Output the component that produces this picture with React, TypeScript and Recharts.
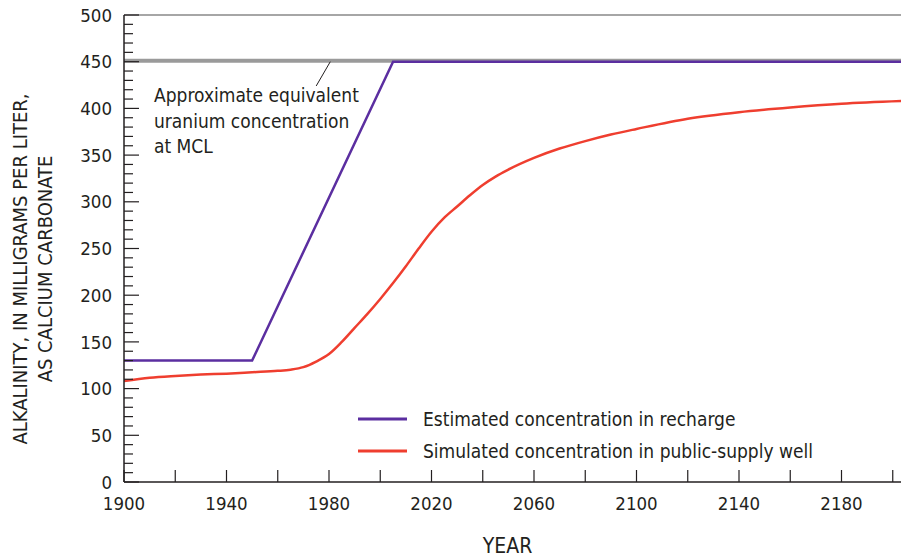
import { LineChart, Line, XAxis, YAxis, ReferenceLine, Legend } from 'recharts';

// recharge concentration (mg/L as CaCO3)
const rechargeYears = [1900, 1950, 2005, 2204];
const rechargeValues = [130, 130, 450, 450];

// simulated concentration in the public-supply well
const wellYears = [1900, 1910, 1920, 1930, 1940, 1950, 1960, 1965, 1970, 1975, 1980, 1985, 1990, 1995, 2000, 2005, 2010, 2015, 2020, 2025, 2030, 2035, 2040, 2045, 2050, 2060, 2070, 2080, 2090, 2100, 2120, 2140, 2160, 2180, 2204];
const wellValues = [108, 111.5, 113.5, 115, 116, 117.5, 119, 120.3, 123, 129, 137, 150, 165, 180, 196, 213, 231, 250, 268, 283, 295, 307, 318, 327, 334.5, 347, 357, 365, 372, 378, 389, 396, 401, 405, 408];

const mclValue = 451;
const leaderFrom = { year: 1975, value: 424 };
const leaderTo = { year: 1980.5, value: 450 };

const yearTicks = [1900, 1920, 1940, 1960, 1980, 2000, 2020, 2040, 2060, 2080, 2100, 2120, 2140, 2160, 2180, 2200];
const valueTicks = Array.from({ length: 51 }, (_, i) => i * 10);

const rechargeData = rechargeYears.map((year, i) => ({ year, recharge: rechargeValues[i] }));
const wellData = wellYears.map((year, i) => ({ year, well: wellValues[i] }));

const FONT = '"Liberation Sans Narrow", "DejaVu Sans Condensed", "Arial Narrow", sans-serif';
const INK = '#231f20';
const PURPLE = '#5b2ea0';
const RED = '#ef3e2f';

const BottomTick = (props: any) => {
  const { x, y, payload } = props;
  const v = payload.value;
  return (
    <g>
      <line x1={x} y1={y} x2={x} y2={y - 12} stroke={INK} strokeWidth={1.2} />
      {(v - 1900) % 40 === 0 && (
        <text x={x} y={y + 28} textAnchor="middle" fontSize={18.5} fontFamily={FONT} fill={INK}>
          {v}
        </text>
      )}
    </g>
  );
};

const TopTick = (props: any) => {
  const { x, y } = props;
  return <line x1={x} y1={y} x2={x} y2={y + 12} stroke="#444" strokeWidth={1.2} />;
};

const LeftTick = (props: any) => {
  const { x, y, payload } = props;
  const major = payload.value % 50 === 0;
  return (
    <g>
      <line x1={x} y1={y} x2={x + (major ? 15 : 9)} y2={y} stroke={INK} strokeWidth={1.2} />
      {major && (
        <text x={x - 12} y={y} dy="0.36em" textAnchor="end" fontSize={18.5} fontFamily={FONT} fill={INK}>
          {payload.value}
        </text>
      )}
    </g>
  );
};

const RightTick = (props: any) => {
  const { x, y, payload } = props;
  const major = payload.value % 50 === 0;
  return <line x1={x} y1={y} x2={x - (major ? 15 : 9)} y2={y} stroke="#777" strokeWidth={1.2} />;
};

const YTitle = () => {
  const cy = 269;
  return (
    <text transform={`rotate(-90 0 ${cy})`} x={0} y={cy} textAnchor="middle" fontSize={20} fontFamily={FONT} fill={INK}>
      <tspan x={0} y={cy + 27}>ALKALINITY, IN MILLIGRAMS PER LITER,</tspan>
      <tspan x={0} y={cy + 52}>AS CALCIUM CARBONATE</tspan>
    </text>
  );
};

const XTitle = (props: any) => {
  const { viewBox } = props;
  return (
    <text x={viewBox.x + viewBox.width / 2 - 6} y={553} textAnchor="middle" fontSize={21} fontFamily={FONT} fill={INK}>
      YEAR
    </text>
  );
};

const MclNote = (props: any) => {
  const { viewBox } = props;
  const x = viewBox.x + 30;
  const y = viewBox.y;
  return (
    <text fontSize={19} fontFamily={FONT} fill={INK}>
      <tspan x={x} y={y + 41}>Approximate equivalent</tspan>
      <tspan x={x} y={y + 67}>uranium concentration</tspan>
      <tspan x={x} y={y + 92}>at MCL</tspan>
    </text>
  );
};

const renderLegend = (props: any) => {
  const { payload } = props;
  return (
    <div style={{ fontFamily: FONT, fontSize: 19, color: INK }}>
      {payload.map((p: any) => (
        <div key={p.value} style={{ display: 'flex', alignItems: 'center', height: 32 }}>
          <svg width={49} height={4} style={{ marginRight: 16 }}>
            <line x1={0} y1={2} x2={49} y2={2} stroke={p.color} strokeWidth={3} />
          </svg>
          <span>{p.value}</span>
        </div>
      ))}
    </div>
  );
};

export default function App() {
  return (
    <div style={{ position: 'fixed', left: 0, top: 0, width: 901, height: 560, overflow: 'hidden', background: '#fff' }}>
      <LineChart width={910} height={560} margin={{ top: 0, right: 0, bottom: 0, left: 0 }}>
        <XAxis
          xAxisId="bottom"
          type="number"
          dataKey="year"
          domain={[1900, 2204]}
          ticks={yearTicks}
          allowDataOverflow
          height={78}
          tickSize={0}
          tickMargin={0}
          tick={<BottomTick />}
          axisLine={{ stroke: INK, strokeWidth: 1.5 }}
          label={<XTitle />}
        />
        <XAxis
          xAxisId="top"
          orientation="top"
          type="number"
          domain={[1900, 2204]}
          ticks={yearTicks}
          allowDataOverflow
          height={15}
          tickSize={0}
          tickMargin={0}
          tick={<TopTick />}
          axisLine={{ stroke: '#888', strokeWidth: 1.5 }}
        />
        <YAxis
          yAxisId="left"
          type="number"
          domain={[0, 500]}
          ticks={valueTicks}
          width={124}
          tickSize={0}
          tickMargin={0}
          interval={0}
          tick={<LeftTick />}
          axisLine={{ stroke: INK, strokeWidth: 1.5 }}
          label={<YTitle />}
        />
        <YAxis
          yAxisId="right"
          orientation="right"
          type="number"
          domain={[0, 500]}
          ticks={valueTicks}
          width={7}
          tickSize={0}
          tickMargin={0}
          interval={0}
          tick={<RightTick />}
          axisLine={{ stroke: '#777', strokeWidth: 1.5 }}
        />
        <ReferenceLine
          xAxisId="bottom"
          yAxisId="left"
          y={mclValue}
          stroke="#9a9a9a"
          strokeWidth={4}
          label={<MclNote />}
        />
        <ReferenceLine
          xAxisId="bottom"
          yAxisId="left"
          segment={[
            { x: leaderFrom.year, y: leaderFrom.value },
            { x: leaderTo.year, y: leaderTo.value },
          ]}
          stroke={INK}
          strokeWidth={1}
        />
        <Line
          xAxisId="bottom"
          yAxisId="left"
          data={rechargeData}
          dataKey="recharge"
          name="Estimated concentration in recharge"
          type="linear"
          stroke={PURPLE}
          strokeWidth={2.5}
          dot={false}
          isAnimationActive={false}
        />
        <Line
          xAxisId="bottom"
          yAxisId="left"
          data={wellData}
          dataKey="well"
          name="Simulated concentration in public-supply well"
          type="monotone"
          stroke={RED}
          strokeWidth={2.5}
          dot={false}
          isAnimationActive={false}
        />
        <Legend
          layout="vertical"
          align="center"
          verticalAlign="middle"
          content={renderLegend}
          wrapperStyle={{ left: 358, top: 403, width: 500 }}
        />
      </LineChart>
    </div>
  );
}
